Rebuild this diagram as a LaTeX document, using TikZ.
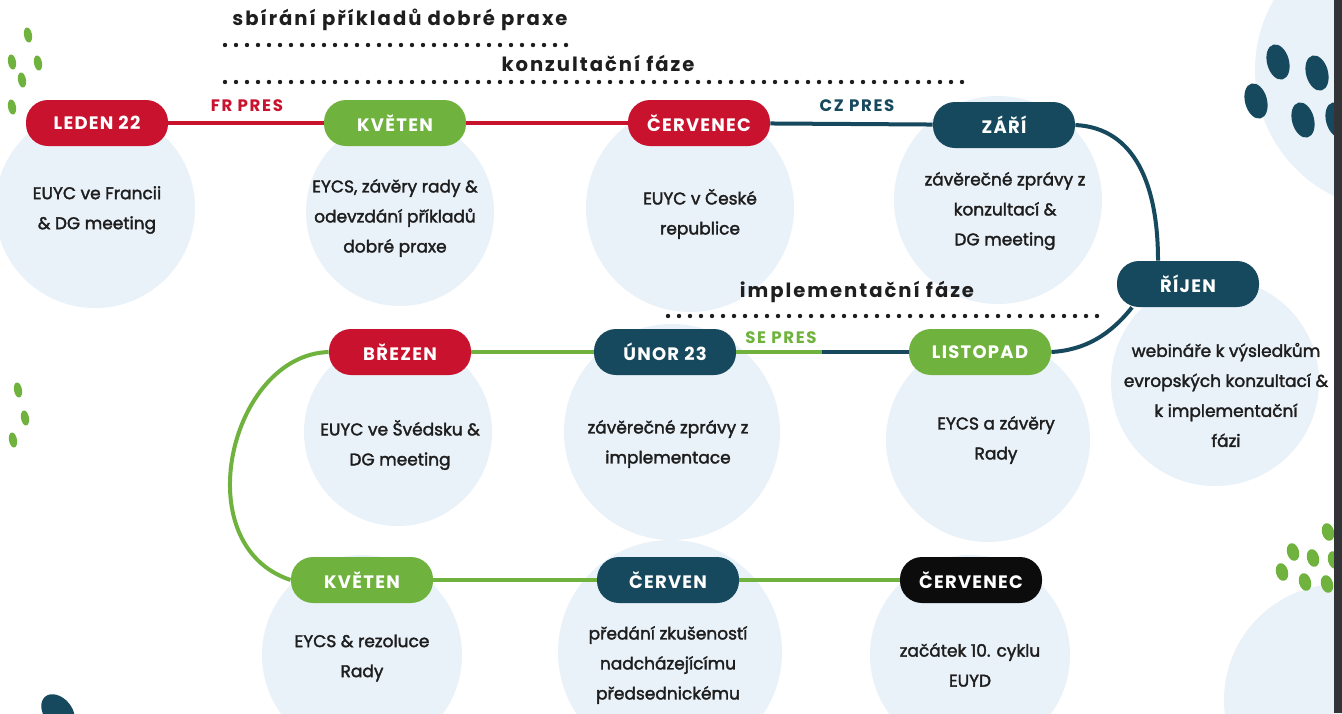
\documentclass[tikz,border=0pt]{standalone}
\usepackage{fontspec}
\setmainfont{Poppins}
\newfontfamily\pillfont[LetterSpace=7]{Poppins}
\newfontfamily\phasefont[LetterSpace=10]{Poppins}
\newfontfamily\bodyfont[FakeBold=2]{Poppins}
\definecolor{presred}{RGB}{200,18,46}
\definecolor{presgreen}{RGB}{112,178,62}
\definecolor{presteal}{RGB}{22,73,93}
\definecolor{presblack}{RGB}{12,12,12}
\definecolor{blobblue}{RGB}{234,242,249}
\definecolor{bodyink}{RGB}{30,30,30}
\definecolor{stripgray}{RGB}{50,52,55}
\def\seed[#1](#2)(#3:#4:#5){\fill[#1, rotate around={#5:(#2)}] (#2) ellipse (#3 and #4);}
\tikzset{
  pill/.style={rectangle, rounded corners=11pt, minimum width=71pt, minimum height=23pt, inner sep=0pt, text=white, font=\pillfont\bfseries\fontsize{9}{10}\selectfont},
  redpill/.style={pill, fill=presred},
  greenpill/.style={pill, fill=presgreen},
  tealpill/.style={pill, fill=presteal},
  blackpill/.style={pill, fill=presblack},
  body/.style={align=center, text=bodyink, font=\bodyfont\fontsize{8.5}{15}\selectfont},
  phase/.style={text=bodyink, font=\phasefont\bfseries\fontsize{9.8}{11}\selectfont},
  pres/.style={font=\phasefont\bfseries\fontsize{8.3}{9}\selectfont},
  dotline/.style={draw=bodyink, line width=2.2pt, line cap=round, dash pattern=on 0pt off 5.5pt},
  link/.style={line width=2pt},
}

\begin{document}
\begin{tikzpicture}[x=0.5pt,y=-0.5pt]
			%%%%% FRAME %%%%%
			\useasboundingbox (0,0) rectangle (1342,713);
			\clip (0,0) rectangle (1342,713);
			\fill[white] (0,0) rectangle (1342,713);
			
			%%%%% BLOBS %%%%%
			\fill[blobblue] (95,208) circle (50pt);
			\fill[blobblue] (400,212) circle (47pt);
			\fill[blobblue] (690,208) circle (52pt);
			\fill[blobblue] (998,200) circle (52pt);
			\fill[blobblue] (1215,382) circle (52pt);
			\fill[blobblue] (398,432) circle (47pt);
			\fill[blobblue] (672,432) circle (54pt);
			\fill[blobblue] (988,440) circle (51pt);
			\fill[blobblue] (362,655) circle (50pt);
			\fill[blobblue] (670,652) circle (56pt);
			\fill[blobblue] (970,655) circle (50pt);
			\fill[blobblue] (1395,70) circle (70pt);
			\fill[blobblue] (1340,700) circle (58pt);
			
			%%%%% SEEDS %%%%%
			\seed[presgreen](28,35)(2pt:3.8pt:10);
			\seed[presgreen](12,62)(2pt:3.8pt:10);
			\seed[presgreen](38,63)(2pt:3.8pt:10);
			\seed[presgreen](22,80)(2pt:3.8pt:10);
			\seed[presgreen](12,107)(2pt:3.8pt:10);
			\seed[presgreen](18,390)(2pt:3.8pt:10);
			\seed[presgreen](25,418)(2pt:3.8pt:10);
			\seed[presgreen](13,440)(2pt:3.8pt:10);
			\seed[presgreen](1293,552)(3pt:4.5pt:15);
			\seed[presgreen](1313,558)(3pt:4.5pt:15);
			\seed[presgreen](1282,572)(3pt:4.5pt:15);
			\seed[presgreen](1305,582)(3pt:4.5pt:15);
			\seed[presgreen](1327,584)(3pt:4.5pt:15);
			\seed[presgreen](1328,532)(3pt:4.5pt:15);
			\seed[presgreen](1334,560)(3pt:4.5pt:15);
			\seed[presteal](1278,62)(5.5pt:9pt:15);
			\seed[presteal](1317,73)(5.5pt:9pt:15);
			\seed[presteal](1256,101)(5.5pt:9pt:15);
			\seed[presteal](1303,120)(5.5pt:9pt:15);
			\seed[presteal](1337,120)(5.5pt:9pt:15);
			\seed[presteal](58,712)(7pt:10pt:40);
			
			%%%%% PHASES %%%%%
			\node[phase] (sbirani) at (400,20) {sbírání příkladů dobré praxe};
			\draw[dotline] (225,45) -- (573,45);
			\node[phase] (konzultace) at (598,63) {konzultační fáze};
			\draw[dotline] (225,82) -- (968,82);
			\node[phase] (implementace) at (857,292) {implementační fáze};
			\draw[dotline] (668,316) -- (1097,316);
			
			%%%%% MONTHS %%%%%
			\node[redpill] (leden) at (97,123) {LEDEN 22};
			\node[greenpill] (kveten) at (395,123) {KVĚTEN};
			\node[redpill] (cervenec) at (699,123) {ČERVENEC};
			\node[tealpill] (zari) at (1004,125) {ZÁŘÍ};
			\node[tealpill] (rijen) at (1188,284) {ŘÍJEN};
			\node[greenpill] (listopad) at (980,352) {LISTOPAD};
			\node[tealpill] (unor) at (665,352) {ÚNOR 23};
			\node[redpill] (brezen) at (400,352) {BŘEZEN};
			\node[greenpill] (kvetenB) at (362,580) {KVĚTEN};
			\node[tealpill] (cerven) at (668,580) {ČERVEN};
			\node[blackpill] (cervenecB) at (971,580) {ČERVENEC};
			
			%%%%% LINKS %%%%%
			\draw[link, presred] (leden) -- (kveten);
			\draw[link, presred] (kveten) -- (cervenec);
			\draw[link, presteal] (cervenec) -- (zari);
			\draw[link, presteal] (zari.east) .. controls (1135,128) and (1158,185) .. ([xshift=-15pt]rijen.north);
			\draw[link, presteal] ([xshift=-28pt]rijen.south) .. controls (1110,335) and (1085,350) .. (listopad.east);
			\coordinate (sesplit) at (822,352);
			\draw[link, presteal] (listopad) -- (sesplit);
			\draw[link, presgreen] (sesplit) -- (unor);
			\draw[link, presgreen] (unor) -- (brezen);
			\draw[link, presgreen] (brezen.west) .. controls (230,355) and (185,545) .. (kvetenB.west);
			\draw[link, presgreen] (kvetenB) -- (cerven);
			\draw[link, presgreen] (cerven) -- (cervenecB);
			
			\node[pres, text=presred] (frpres) at (247,106) {FR PRES};
			\node[pres, text=presteal] (czpres) at (857,106) {CZ PRES};
			\node[pres, text=presgreen] (sepres) at (781,338) {SE PRES};
			
			%%%%% TEXTS %%%%%
			\node[body] (ledenText) at (97,210) {EUYC ve Francii\\\& DG meeting};
			\node[body] (kvetenText) at (395,218) {EYCS, závěry rady \&\\odevzdání příkladů\\dobré praxe};
			\node[body] (cervenecText) at (700,214) {EUYC v České\\republice};
			\node[body] (zariText) at (1005,211) {závěrečné zprávy z\\konzultací \&\\DG meeting};
			\node[body] (rijenText) at (1226,395) {webináře k výsledkům\\evropských konzultací \&\\k implementační\\fázi};
			\node[body] (brezenText) at (400,445) {EUYC ve Švédsku \&\\DG meeting};
			\node[body] (unorText) at (668,444) {závěrečné zprávy z\\implementace};
			\node[body] (listopadText) at (996,440) {EYCS a závěry\\Rady};
			\node[body] (kvetenBText) at (362,658) {EYCS \& rezoluce\\Rady};
			\node[body] (cervenText) at (668,665) {předání zkušeností\\nadcházejícímu\\předsednickému};
			\node[body] (cervenecBText) at (970,665) {začátek 10. cyklu\\EUYD};
			
			\fill[stripgray] (1334,0) rectangle (1342,713);
\end{tikzpicture}
\end{document}
